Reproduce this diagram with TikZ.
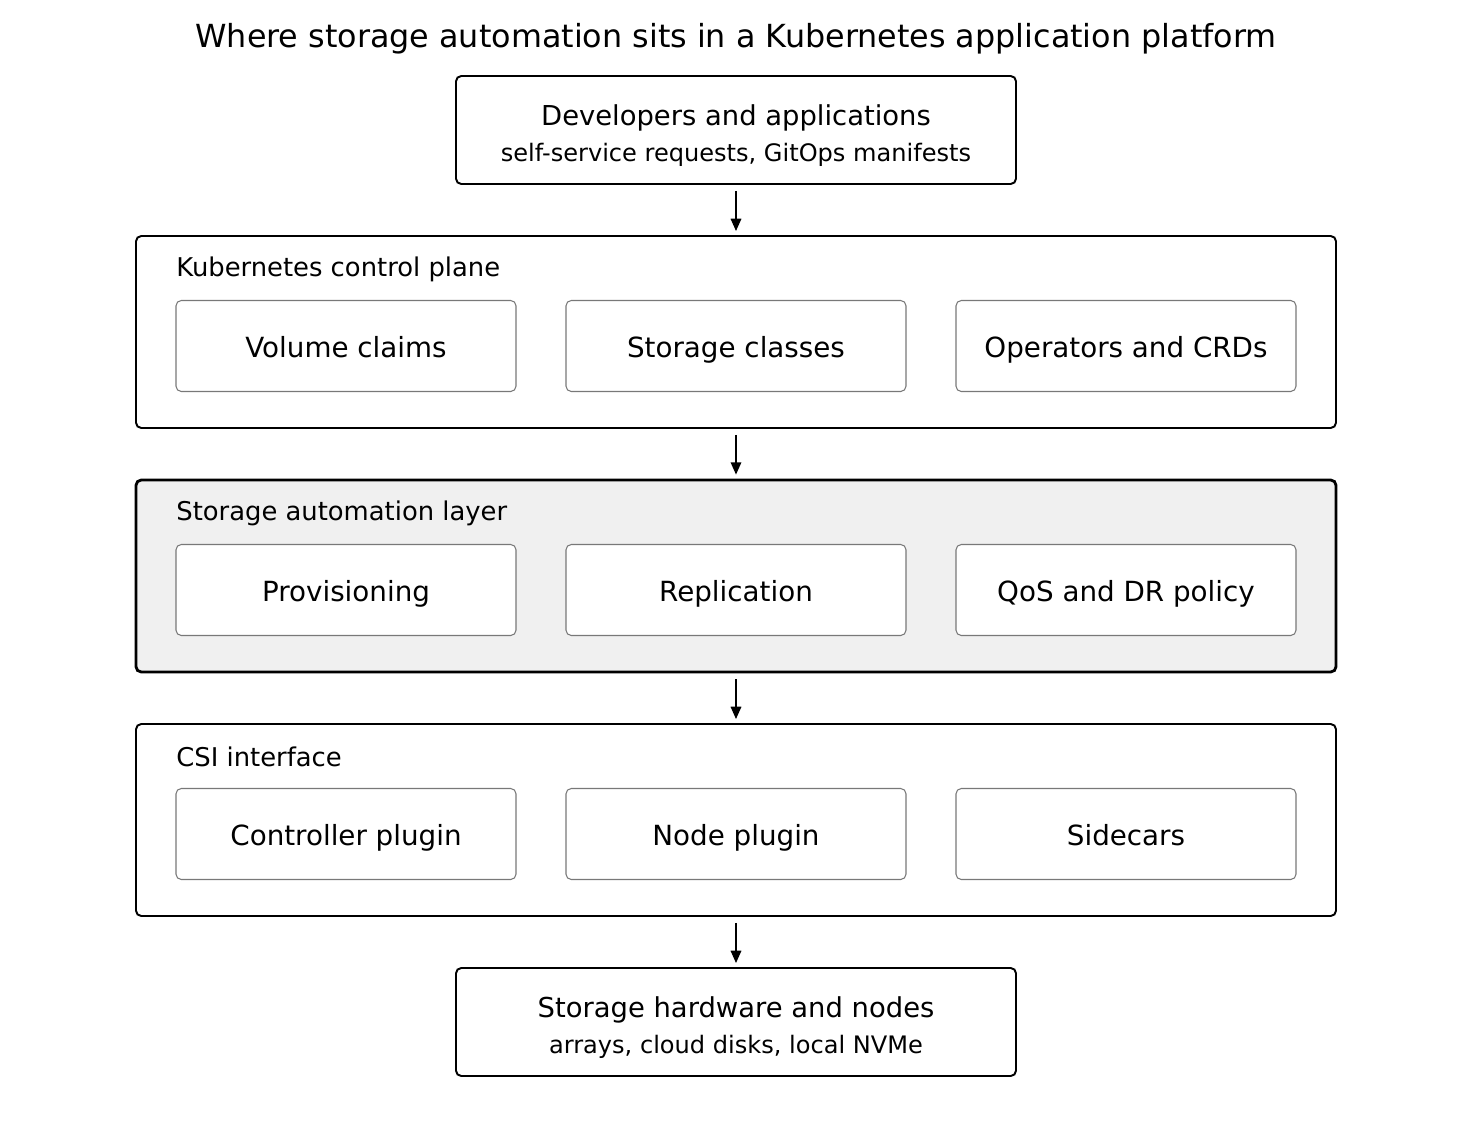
\documentclass[tikz,border=0pt]{standalone}
\usepackage{fontspec}
\setmainfont{DejaVu Sans}
\usepackage{xcolor}
\usepackage{tikz}
\usetikzlibrary{positioning,arrows.meta,calc}
\definecolor{layergray}{RGB}{240,240,240}
\definecolor{innergray}{RGB}{120,120,120}

\begin{document}
\begin{tikzpicture}[x=0.02cm, y=-0.02cm,
    endbox/.style={draw=black, line width=1.1pt, rounded corners=3pt, minimum width=560*0.02cm, minimum height=108*0.02cm, align=center, inner sep=0pt},
    layerbox/.style={draw=black, line width=1.1pt, rounded corners=3pt, minimum width=1200*0.02cm, minimum height=192*0.02cm, inner sep=0pt},
    partbox/.style={draw=innergray, line width=0.6pt, fill=white, rounded corners=3pt, minimum width=340*0.02cm, minimum height=91*0.02cm, inner sep=0pt, text height=15pt, text depth=2pt, font=\fontsize{15.8}{19}\selectfont},
    layerlabel/.style={anchor=west, inner sep=0pt, font=\fontsize{14.7}{18}\selectfont},
    flow/.style={-{Triangle[length=7pt,width=6pt]}, line width=0.9pt}]
  \useasboundingbox (0,0) rectangle (1472,1126);

  \node[font=\fontsize{18.1}{22}\selectfont] (title) at (736,39) {Where storage automation sits in a Kubernetes application platform};

  % top and bottom boxes
  \node[endbox] (dev) at (736,130) {{\fontsize{15.6}{19}\selectfont\rule{0pt}{18pt}Developers and applications}\\[6pt]{\fontsize{13.7}{16}\selectfont self-service requests, GitOps manifests}};
  \node[endbox] (hw) at (736,1022) {{\fontsize{15.6}{19}\selectfont\rule{0pt}{18pt}Storage hardware and nodes}\\[6pt]{\fontsize{13.7}{16}\selectfont arrays, cloud disks, local NVMe}};

  % layers
  \node[layerbox] (k8s) at (736,332) {};
  \node[layerbox, fill=layergray, line width=1.6pt] (auto) at (736,576) {};
  \node[layerbox] (csi) at (736,820) {};

  \node[layerlabel] (k8slabel) at (176,269) {Kubernetes control plane};
  \node[layerlabel] (autolabel) at (176,513) {Storage automation layer};
  \node[layerlabel] (csilabel) at (176,757) {CSI interface};

  \node[partbox] (claims) at (346,346) {Volume claims};
  \node[partbox] (classes) at (736,346) {Storage classes};
  \node[partbox] (operators) at (1126,346) {Operators and CRDs};

  \node[partbox] (prov) at (346,590) {Provisioning};
  \node[partbox] (repl) at (736,590) {Replication};
  \node[partbox] (qos) at (1126,590) {QoS and DR policy};

  \node[partbox] (ctrl) at (346,834) {Controller plugin};
  \node[partbox] (nodep) at (736,834) {Node plugin};
  \node[partbox] (side) at (1126,834) {Sidecars};

  % arrows between layers
  \draw[flow] ($(dev.south)+(0,6)$) -- ($(k8s.north)+(0,-4)$);
  \draw[flow] ($(k8s.south)+(0,6)$) -- ($(auto.north)+(0,-4)$);
  \draw[flow] ($(auto.south)+(0,6)$) -- ($(csi.north)+(0,-4)$);
  \draw[flow] ($(csi.south)+(0,6)$) -- ($(hw.north)+(0,-4)$);
\end{tikzpicture}
\end{document}
